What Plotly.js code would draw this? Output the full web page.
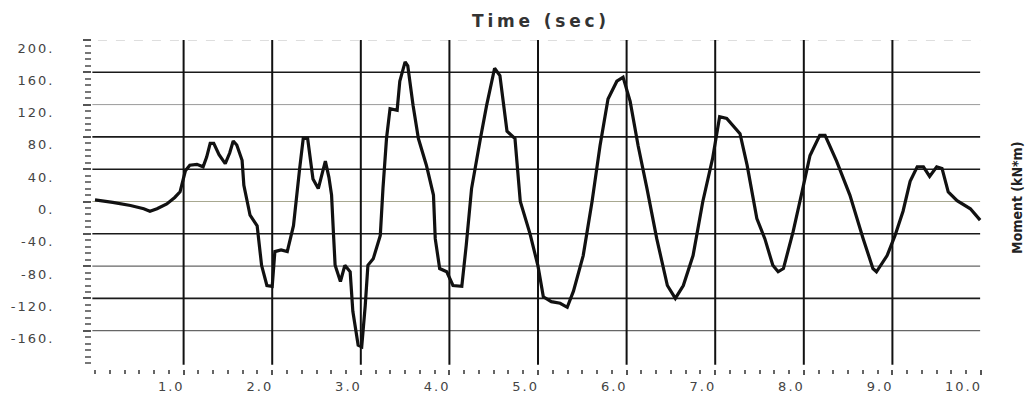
<!DOCTYPE html>
<html>
<head>
<meta charset="utf-8">
<script src="https://cdn.plot.ly/plotly-3.0.1.min.js"></script>
<style>
  html, body { margin: 0; padding: 0; background: #fff; }
  #chart { width: 1035px; height: 394px; }
  .xtick text, .ytick text { letter-spacing: 2px; }
  .xtick text { text-anchor: end !important; }
  .gtitle { letter-spacing: 3.8px; }
</style>
</head>
<body>
<div id="chart"></div>
<script>
// ---- data ----
const timeSec = [0.00,0.20,0.40,0.55,0.62,0.70,0.81,0.90,0.96,1.02,1.07,1.15,1.22,1.26,1.30,1.34,1.40,1.47,1.52,1.56,1.60,1.66,1.68,1.75,1.83,1.88,1.94,2.00,2.03,2.10,2.17,2.24,2.31,2.35,2.40,2.46,2.52,2.60,2.64,2.67,2.69,2.71,2.77,2.82,2.88,2.91,2.97,3.01,3.05,3.08,3.14,3.22,3.25,3.29,3.33,3.41,3.44,3.50,3.53,3.59,3.65,3.74,3.82,3.84,3.89,3.97,4.04,4.14,4.19,4.25,4.35,4.42,4.51,4.57,4.65,4.74,4.80,4.91,5.00,5.06,5.15,5.25,5.33,5.40,5.51,5.61,5.70,5.79,5.89,5.96,6.04,6.13,6.23,6.34,6.46,6.55,6.64,6.75,6.86,6.97,7.05,7.13,7.28,7.36,7.47,7.56,7.65,7.71,7.77,7.88,7.98,8.07,8.18,8.24,8.37,8.52,8.67,8.78,8.82,8.94,9.03,9.12,9.20,9.28,9.35,9.42,9.50,9.56,9.63,9.73,9.88,9.99];
const moment = [2,-1,-5,-9,-12,-9,-3,5,12,38,45,46,43,55,72,72,58,47,60,75,70,51,20,-17,-30,-79,-104,-105,-62,-60,-62,-30,41,78,78,28,16,50,30,8,-37,-79,-99,-79,-87,-136,-178,-180,-129,-79,-71,-42,16,78,115,113,149,173,168,119,78,45,8,-46,-83,-87,-104,-105,-54,16,78,119,165,156,87,78,0,-40,-80,-118,-124,-126,-131,-111,-67,0,69,127,149,154,124,69,16,-46,-104,-120,-104,-67,0,53,105,103,84,45,-21,-46,-79,-87,-83,-37,12,57,82,82,50,8,-46,-83,-87,-67,-42,-12,25,43,43,31,43,41,12,1,-9,-23];

const xTickVals = [1,2,3,4,5,6,7,8,9,10];
const xTickText = ["1.0","2.0","3.0","4.0","5.0","6.0","7.0","8.0","9.0","10.0"];
const yTickVals = [200,160,120,80,40,0,-40,-80,-120,-160];
const yTickText = ["200.","160.","120.","80.","40.","0.","-40.","-80.","-120.","-160."];
const verticalGridTimes = [1,2,3,4,5,6,7,8,9];

// ---- styling ----
const gridStyle = {
  "200": {color:"#bdbdbd", width:1, dash:"dash"},
  "160": {color:"#1a1a1a", width:1.6, dash:"solid"},
  "120": {color:"#9a9a9a", width:1, dash:"solid"},
  "80":  {color:"#1a1a1a", width:1.6, dash:"solid"},
  "40":  {color:"#1a1a1a", width:1.6, dash:"solid"},
  "0":   {color:"#a8a890", width:1, dash:"solid"},
  "-40": {color:"#1a1a1a", width:1.6, dash:"solid"},
  "-80": {color:"#666666", width:1.2, dash:"solid"},
  "-120":{color:"#1a1a1a", width:1.6, dash:"solid"},
  "-160":{color:"#666666", width:1.2, dash:"solid"}
};

const shapes = [];
yTickVals.forEach(v => {
  const s = gridStyle[String(v)];
  shapes.push({type:"line", xref:"x", yref:"y", x0: v === 200 ? -0.17 : -0.03, x1: 9.99, y0: v, y1: v,
    line:{color:s.color, width:s.width, dash:s.dash}, layer:"below"});
});
verticalGridTimes.forEach(t => {
  shapes.push({type:"line", xref:"x", yref:"y", x0:t, x1:t, y0:-202, y1:200,
    line:{color:"#111", width:2}, layer:"below"});
});

const trace = {
  x: timeSec, y: moment, type: "scatter", mode: "lines",
  line: {color:"#111", width:3.2}, hoverinfo:"skip"
};

const tickFont = {family:"DejaVu Sans, sans-serif", size:13, color:"#444"};

const layout = {
  width:1035, height:394,
  margin:{l:92, r:50, t:40, b:25, pad:0},
  paper_bgcolor:"#fff", plot_bgcolor:"#fff",
  showlegend:false,
  title:{text:"<b>Time (sec)</b>", x:0.5227, xanchor:"center", xref:"container", y:0.947, yanchor:"middle",
    font:{family:"DejaVu Sans, sans-serif", size:17, color:"#333"}},
  xaxis:{range:[-0.034, 10.045], showgrid:false, zeroline:false, showline:false,
    tickmode:"array", tickvals:xTickVals, ticktext:xTickText,
    ticks:"outside", ticklen:5, tickwidth:2, tickcolor:"#555",
    ticklabelshift:1,
    minor:{dtick:1/6, tick0:0, ticks:"outside", ticklen:4, tickwidth:2, tickcolor:"#666"},
    tickfont:tickFont, fixedrange:true},
  yaxis:{range:[-207.4, 200], showgrid:false, zeroline:false, showline:false,
    tickmode:"array", tickvals:yTickVals, ticktext:yTickText,
    ticks:"outside", ticklen:8, tickwidth:2, tickcolor:"#555",
    ticklabelstandoff:26, ticklabelshift:8,
    minor:{dtick:8, tick0:0, ticks:"outside", ticklen:6, tickwidth:2, tickcolor:"#777"},
    tickfont:tickFont, fixedrange:true},
  shapes: shapes,
  annotations:[{text:"<b>Moment (kN*m)</b>", xref:"paper", yref:"paper", x:1.0358, y:0.52,
    xanchor:"center", yanchor:"middle", textangle:-90, showarrow:false,
    font:{family:"Liberation Sans Narrow, DejaVu Sans Condensed, DejaVu Sans, sans-serif", size:14, color:"#222"}}]
};

Plotly.newPlot("chart", [trace], layout, {staticPlot:true, displayModeBar:false});
</script>
</body>
</html>
